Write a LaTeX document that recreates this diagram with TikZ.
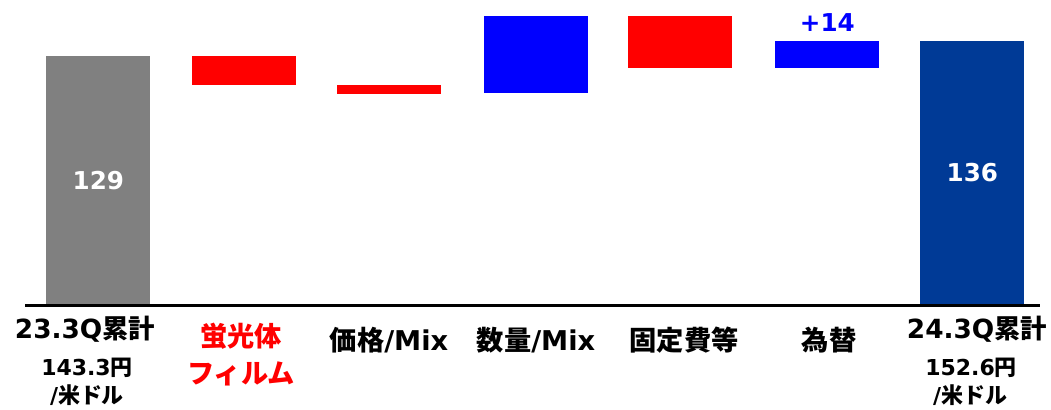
\documentclass[tikz,border=0pt]{standalone}
\usepackage{fontspec}
\setmainfont{DejaVu Sans}
\newfontfamily\jp{Noto Sans CJK JP}
\usetikzlibrary{positioning}
\definecolor{bargray}{RGB}{128,128,128}
\definecolor{barnavy}{RGB}{0,58,150}

\begin{document}
\begin{tikzpicture}
[x=0.2mm, y=-0.2mm,
bar/.style={anchor=north west, inner sep=0pt, minimum width=20.8mm, text=white,
  font=\bfseries\fontsize{14}{16}\selectfont},
cat/.style={font=\bfseries\fontsize{15.5}{18}\selectfont, inner sep=0pt},
big/.style={font=\bfseries\fontsize{15}{17}\selectfont, inner sep=0pt},
rate/.style={font=\bfseries\fontsize{12.5}{14}\selectfont, inner sep=0pt}
]
  \useasboundingbox (0,0) rectangle (1051,409);

  % bars
  \node[bar, fill=bargray, minimum height=49.6mm] (b0) at (46,56)  {129};
  \node[bar, fill=red,     minimum height=5.8mm]  (b1) at (192,56) {};
  \node[bar, fill=red,     minimum height=1.8mm]  (b2) at (337,85) {};
  \node[bar, fill=blue,    minimum height=15.4mm] (b3) at (484,16) {};
  \node[bar, fill=red,     minimum height=10.4mm] (b4) at (628,16) {};
  \node[bar, fill=blue,    minimum height=5.4mm]  (b5) at (775,41) {};
  \node[bar, fill=barnavy, minimum height=52.6mm] (b6) at (920,41) {136};
  \node[bar, anchor=south, text=blue, above=5pt of b5] (d5) {+14};

  % axis
  \coordinate (axl) at (25,305);
  \coordinate (axr) at (1040,305);
  \draw[line width=0.6mm] (axl) -- (axr);

  % labels
  \node[big]  (l0) at (85,329)  {23.3Q{\jp 累計}};
  \node[rate] (r0) at (87,368)  {143.3{\jp 円}};
  \node[rate] (u0) at (87,395)  {/{\jp 米ドル}};
  \node[cat, text=red, align=center] (l1) at (241,355)
    {{\jp 蛍光体}\\[3pt]{\jp フィルム}};
  \node[cat] (l2) at (389,340) {{\jp 価格}/Mix};
  \node[cat] (l3) at (536,340) {{\jp 数量}/Mix};
  \node[cat] (l4) at (684,340) {{\jp 固定費等}};
  \node[cat] (l5) at (829,340) {{\jp 為替}};
  \node[big]  (l6) at (977,329) {24.3Q{\jp 累計}};
  \node[rate] (r6) at (971,368) {152.6{\jp 円}};
  \node[rate] (u6) at (970,395) {/{\jp 米ドル}};
\end{tikzpicture}
\end{document}
